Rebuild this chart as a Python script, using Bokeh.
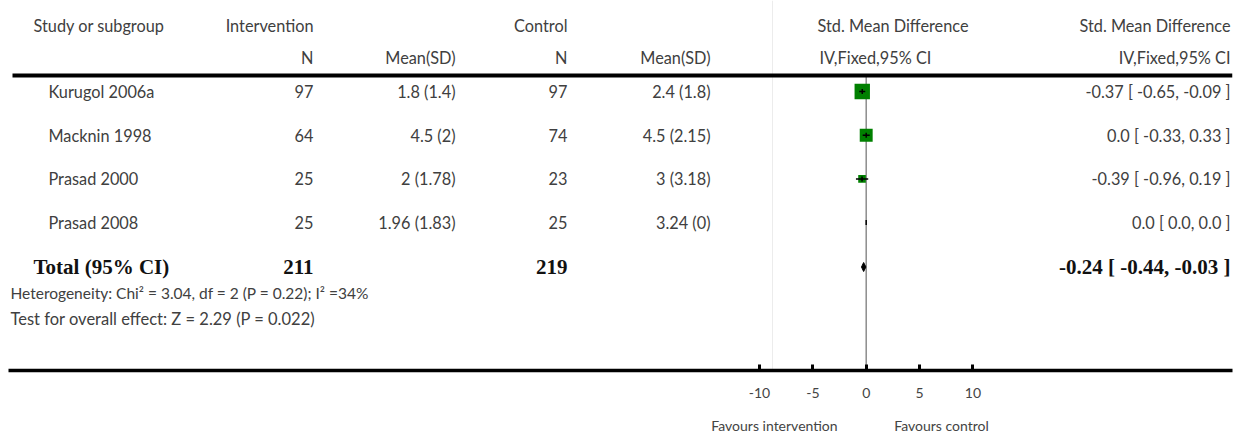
import math
from bokeh.plotting import figure
from bokeh.models import Range1d, LinearAxis, FixedTicker
from bokeh.core.properties import value
from bokeh.embed import file_html
from bokeh.resources import INLINE

# ---------------- data ----------------
studies = ["Kurugol 2006a", "Macknin 1998", "Prasad 2000", "Prasad 2008"]
int_n = [97, 64, 25, 25]
int_mean_sd = ["1.8 (1.4)", "4.5 (2)", "2 (1.78)", "1.96 (1.83)"]
ctl_n = [97, 74, 23, 25]
ctl_mean_sd = ["2.4 (1.8)", "4.5 (2.15)", "3 (3.18)", "3.24 (0)"]
smd = [-0.37, 0.0, -0.39, 0.0]
ci_lo = [-0.65, -0.33, -0.96, 0.0]
ci_hi = [-0.09, 0.33, 0.19, 0.0]
weight = [51.2, 36.2, 12.6, 0.0]
total_int_n = 211
total_ctl_n = 219
total_smd = -0.24
total_lo = -0.44
total_hi = -0.03
heterogeneity = "Heterogeneity: Chi\u00b2 = 3.04, df = 2 (P = 0.22); I\u00b2 =34%"
overall_effect = "Test for overall effect: Z = 2.29 (P = 0.022)"
axis_ticks = [-10, -5, 0, 5, 10]
favours = ["Favours intervention", "Favours control"]
header1 = ["Study or subgroup", "Intervention", "Control", "Std. Mean Difference", "Std. Mean Difference"]
header2 = ["N", "Mean(SD)", "N", "Mean(SD)", "IV,Fixed,95% CI", "IV,Fixed,95% CI"]

# ---------------- layout helpers ----------------
W, H = 1234, 436
LEFT, RIGHT = 8, 1232
ZERO_PX = 865.7
UNIT_PX = 10.67
AXIS_Y = 370


def X(page_x):
    return (page_x - ZERO_PX) / UNIT_PX


FONT = value("Lato")
SERIF = value("Liberation Serif")
TXT = "#404040"
FS = "16.3px"
BFS = "21px"

p = figure(width=W, height=H, x_range=Range1d(X(LEFT), X(RIGHT)),
           y_range=Range1d(AXIS_Y, 0), x_axis_type=None, y_axis_type=None,
           output_backend="svg", toolbar_location=None, min_border=0,
           min_border_left=LEFT, min_border_right=W - RIGHT,
           outline_line_color=None, background_fill_color="white")

rows_y = [91 + 43.7 * i for i in range(len(studies))]
total_y = 266.5


def txt(xs, ys, texts, align="left", font=FONT, size=FS, style="normal", color=TXT):
    p.text(x=xs, y=ys, text=texts, text_font=font, text_font_size=size,
           text_font_style=style, text_color=color, text_align=align,
           text_baseline="middle")


# faint separator and zero line
p.segment(x0=[X(772)], y0=[0], x1=[X(772)], y1=[AXIS_Y], line_color="#ececec", line_width=1)
p.segment(x0=[0], y0=[75], x1=[0], y1=[AXIS_Y], line_color="#8c8c8c", line_width=1.5)
# header rule
p.segment(x0=[X(12)], y0=[75], x1=[X(1232)], y1=[75], line_color="black", line_width=4)

# headers
txt([X(33)], [25], [header1[0]])
txt([X(313), X(567)], [25, 25], header1[1:3], align="right")
txt([X(817)], [25], [header1[3]])
txt([X(1230)], [25], [header1[4]], align="right")
txt([X(313), X(455), X(567), X(710)], [57] * 4, header2[:4], align="right")
txt([X(819)], [57], [header2[4]])
txt([X(1230)], [57], [header2[5]], align="right")

# study rows
txt([X(48)] * len(studies), rows_y, studies)
txt([X(313)] * len(studies), rows_y, [str(v) for v in int_n], align="right")
txt([X(455)] * len(studies), rows_y, int_mean_sd, align="right")
txt([X(567)] * len(studies), rows_y, [str(v) for v in ctl_n], align="right")
txt([X(710)] * len(studies), rows_y, ctl_mean_sd, align="right")
effect_labels = [f"{e} [ {lo}, {hi} ]" for e, lo, hi in zip(smd, ci_lo, ci_hi)]
txt([X(1230)] * len(studies), rows_y, effect_labels, align="right")

# total row
txt([X(33)], [total_y], ["Total (95% CI)"], font=SERIF, size=BFS, style="bold", color="#111111")
txt([X(313), X(567)], [total_y] * 2, [str(total_int_n), str(total_ctl_n)], align="right",
    font=SERIF, size=BFS, style="bold", color="#111111")
txt([X(1230)], [total_y], [f"{total_smd} [ {total_lo}, {total_hi} ]"], align="right",
    font=SERIF, size=BFS, style="bold", color="#111111")
txt([X(10)], [292], [heterogeneity], size="15.5px")
txt([X(10)], [318], [overall_effect], size="16.5px")

# forest marks
sizes = [2.15 * math.sqrt(w) for w in weight]
p.scatter(x=smd, y=rows_y, size=sizes, marker="square", fill_color="#008000", line_color=None)
p.segment(x0=ci_lo, y0=rows_y, x1=ci_hi, y1=rows_y, line_color="black", line_width=1.5)
p.segment(x0=smd, y0=[y - 2.5 for y in rows_y], x1=smd, y1=[y + 2.5 for y in rows_y],
          line_color="black", line_width=1.5)
p.patch(x=[total_lo, total_smd, total_hi, total_smd],
        y=[total_y, total_y - 4.5, total_y, total_y + 4.5], fill_color="black", line_color="black")

# axes
ax = LinearAxis(ticker=FixedTicker(ticks=axis_ticks),
                major_label_overrides={t: str(t) for t in axis_ticks})
ax.axis_line_width = 3.5
ax.axis_line_color = "black"
ax.major_tick_in = 6
ax.major_tick_out = 0
ax.major_tick_line_width = 3
ax.minor_tick_line_color = None
ax.major_label_standoff = 17
ax.major_label_text_font = "Lato"
ax.major_label_text_font_size = "14px"
ax.major_label_text_color = "#444444"
p.add_layout(ax, "below")

fav_pos = [X(774), X(941)]
ax2 = LinearAxis(ticker=FixedTicker(ticks=fav_pos),
                 major_label_overrides={fav_pos[0]: favours[0], fav_pos[1]: favours[1]})
ax2.axis_line_color = None
ax2.major_tick_line_color = None
ax2.minor_tick_line_color = None
ax2.major_label_standoff = 10
ax2.major_label_text_font = "Lato"
ax2.major_label_text_font_size = "14px"
ax2.major_label_text_color = "#444444"
p.add_layout(ax2, "below")

open("out.html", "w").write(file_html(p, INLINE))
